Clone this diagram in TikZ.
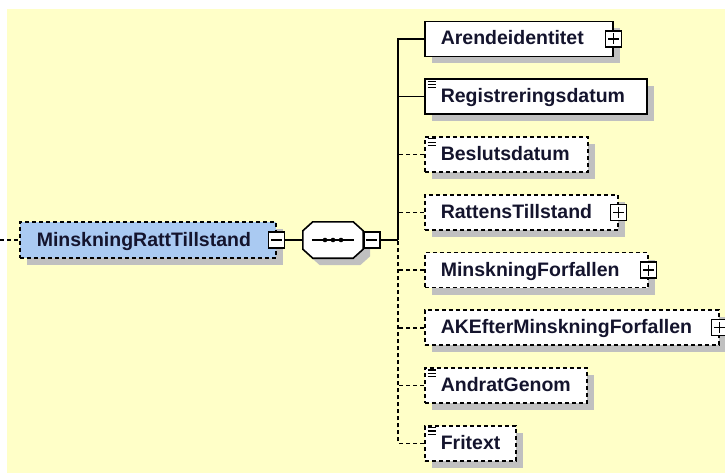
\documentclass[tikz,border=0pt]{standalone}
\usepackage{fontspec}
\setmainfont{Liberation Sans}
\usetikzlibrary{shadows}
\definecolor{bgyellow}{RGB}{255,255,200}
\definecolor{rootblue}{RGB}{170,202,242}
\definecolor{shadowgray}{RGB}{192,192,192}
\definecolor{txt}{RGB}{20,20,45}
\newcommand{\xsdicon}[1]{\foreach \dy in {2.7,6,9.3} \draw[line width=1.2pt] ([shift={(3.5pt,-\dy pt)}]#1.north west) -- ++(8.5pt,0pt);}
\newcommand{\octo}[1]{([#1,xshift=10pt]seq.north west) -- ([#1,xshift=-10pt]seq.north east) -- ([#1,yshift=-9pt]seq.north east) -- ([#1,yshift=9pt]seq.south east) -- ([#1,xshift=-10pt]seq.south east) -- ([#1,xshift=10pt]seq.south west) -- ([#1,yshift=9pt]seq.south west) -- ([#1,yshift=-9pt]seq.north west) -- cycle}
\tikzset{
  elem/.style={draw=black, line width=1.6pt, fill=white, anchor=west,
    minimum height=35pt, inner xsep=16pt, inner ysep=0pt,
    text height=16pt, text depth=4pt, align=left,
    font=\bfseries\fontsize{19.5}{20}\selectfont, text=txt,
    general shadow={fill=shadowgray, shadow xshift=7pt, shadow yshift=-7pt}},
  opt/.style={dash pattern=on 4pt off 3pt},
  conn/.style={draw=black, line width=1.5pt},
  pmbox/.style={draw=black, line width=1.4pt, fill=white, minimum size=16pt, inner sep=0pt},
  minusbox/.style={pmbox, path picture={\draw[line width=1.4pt]
    ([xshift=2.5pt]path picture bounding box.west) -- ([xshift=-2.5pt]path picture bounding box.east);}},
  plusbox/.style={pmbox, path picture={\draw[line width=1.4pt]
    ([xshift=2.5pt]path picture bounding box.west) -- ([xshift=-2.5pt]path picture bounding box.east)
    ([yshift=-2.5pt]path picture bounding box.north) -- ([yshift=2.5pt]path picture bounding box.south);}},
  seqbox/.style={minimum width=60pt, minimum height=36pt, inner sep=0pt}
}
\begin{document}
\begin{tikzpicture}[x=1pt,y=-1pt]
\useasboundingbox (0,0) rectangle (725,473);
\fill[bgyellow] (7,9) rectangle (725,473);

% root
\node[elem, opt, fill=rootblue, minimum height=36pt, inner xsep=17pt, text width=222pt] (root) at (19,240) {MinskningRattTillstand};
\node[minusbox] (m1) at (root.east) {};
\coordinate (lin) at (0,240);
\draw[conn, opt] (lin) -- (root.west);

% sequence
\node[seqbox] (seq) at (333,240) {};
\fill[shadowgray] \octo{shift={(7pt,-7pt)}};
\draw[line width=1.6pt, fill=white] \octo{shift={(0pt,0pt)}};
\draw[line width=1.4pt] ([xshift=9pt]seq.west) -- ([xshift=-9pt]seq.east);
\foreach \dx in {-8,0,8} \fill ([xshift=\dx pt]seq.center) circle (2.3pt);
\node[minusbox, anchor=west] (m2) at (seq.east) {};
\draw[conn] (m1.east) -- (seq.west);
\coordinate (trunk) at (398,240);
\draw[conn] (m2.east) -- (trunk);

% children
\node[elem, text width=156pt] (c1) at (424,39) {Arendeidentitet};
\node[plusbox] (p1) at (c1.east) {};
\node[elem, text width=190pt] (c2) at (424,96.75) {Registreringsdatum};
\xsdicon{c2}
\node[elem, opt, text width=131pt] (c3) at (424,154.5) {Beslutsdatum};
\xsdicon{c3}
\node[elem, opt, text width=161pt] (c4) at (424,212.25) {RattensTillstand};
\node[plusbox] (p4) at (c4.east) {};
\node[elem, opt, text width=191pt] (c5) at (424,270) {MinskningForfallen};
\node[plusbox] (p5) at (c5.east) {};
\node[elem, opt, text width=262pt] (c6) at (424,327.75) {AKEfterMinskningForfallen};
\node[plusbox] (p6) at (c6.east) {};
\node[elem, opt, text width=130pt] (c7) at (424,385.5) {AndratGenom};
\xsdicon{c7}
\node[elem, opt, text width=59pt] (c8) at (424,443.25) {Fritext};
\xsdicon{c8}

% connectors
\draw[conn] (c1.west) -| (trunk);
\draw[conn] (c2.west) -- (trunk |- c2.west);
\draw[conn, opt] (c3.west) -- (trunk |- c3.west);
\draw[conn, opt] (c4.west) -- (trunk |- c4.west);
\draw[conn, opt] (c5.west) -- (trunk |- c5.west);
\draw[conn, opt] (c6.west) -- (trunk |- c6.west);
\draw[conn, opt] (c7.west) -- (trunk |- c7.west);
\draw[conn, opt] (c8.west) -| (trunk);
\end{tikzpicture}
\end{document}
